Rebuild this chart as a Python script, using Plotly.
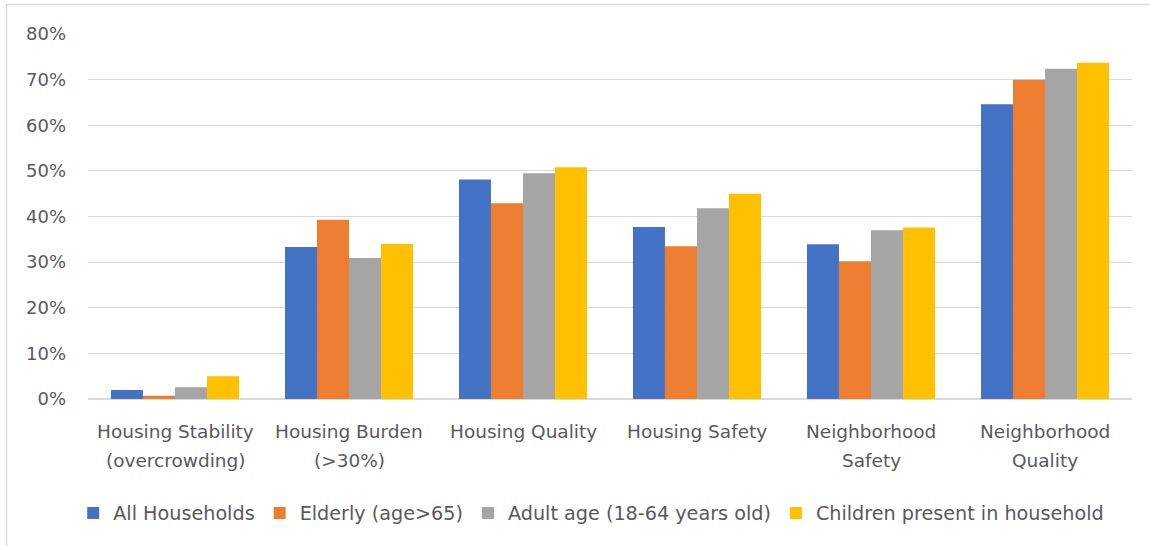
import plotly.graph_objects as go

categories = ["Housing Stability (overcrowding)", "Housing Burden (>30%)", "Housing Quality",
              "Housing Safety", "Neighborhood Safety", "Neighborhood Quality"]
category_lines = [["Housing Stability", "(overcrowding)"], ["Housing Burden", "(>30%)"], ["Housing Quality"],
                  ["Housing Safety"], ["Neighborhood", "Safety"], ["Neighborhood", "Quality"]]
series_names = ["All Households", "Elderly (age>65)", "Adult age (18-64 years old)", "Children present in household"]
all_households = [2.0, 33.3, 48.1, 37.7, 33.9, 64.6]
elderly = [0.7, 39.3, 42.9, 33.5, 30.2, 70.0]
adult = [2.6, 30.9, 49.5, 41.8, 37.0, 72.4]
children = [5.0, 34.0, 50.8, 45.0, 37.6, 73.7]
colors = ["#4472C4", "#ED7D31", "#A5A5A5", "#FFC000"]
y_ticks = [0, 10, 20, 30, 40, 50, 60, 70, 80]
y_tick_labels = [f"{v}%" for v in y_ticks]

FONT = "DejaVu Sans"
TXT = "#595959"

fig = go.Figure()
for name, vals, col in zip(series_names, [all_households, elderly, adult, children], colors):
    fig.add_trace(go.Bar(x=categories, y=vals, name=name, marker=dict(color=col, line=dict(width=0))))

L, R, T, B = 88, 18, 34, 147
W, H = 1150, 546
pw, ph = W - L - R, H - T - B

annotations = []
for cat, lines in zip(categories, category_lines):
    for i, line in enumerate(lines):
        annotations.append(dict(x=cat, y=0, xref="x", yref="y", text=line, showarrow=False,
                                xanchor="center", yanchor="middle", yshift=-32 - 29 * i,
                                font=dict(family=FONT, size=18.5, color=TXT)))

fig.update_layout(
    width=W, height=H,
    margin=dict(l=L, r=R, t=T, b=B),
    paper_bgcolor="white", plot_bgcolor="white",
    barmode="group", bargap=0.264, bargroupgap=0,
    font=dict(family=FONT, color=TXT, size=18),
    showlegend=True,
    legend=dict(orientation="h", x=0.482, xanchor="center", y=(ph - (513 - T)) / ph, yanchor="middle",
                font=dict(family=FONT, size=19.2, color=TXT), itemwidth=30, traceorder="normal"),
    xaxis=dict(showgrid=False, showline=False, showticklabels=False, zeroline=False),
    yaxis=dict(range=[0, 80], tickvals=y_ticks, ticktext=y_tick_labels, showgrid=True,
               gridcolor="#D9D9D9", gridwidth=1, zeroline=True, zerolinecolor="#D9D9D9", zerolinewidth=1.5,
               showline=False, tickfont=dict(size=18, family=FONT, color=TXT), ticklabelstandoff=21),
    annotations=annotations,
    shapes=[
        dict(type="line", xref="paper", yref="paper", x0=(6.5 - L) / pw, x1=(6.5 - L) / pw,
             y0=(ph - (546 - T)) / ph, y1=(ph - (4.5 - T)) / ph, line=dict(color="#D9D9D9", width=1.5)),
        dict(type="line", xref="paper", yref="paper", x0=(6.5 - L) / pw, x1=(W + 5 - L) / pw,
             y0=(ph - (4.5 - T)) / ph, y1=(ph - (4.5 - T)) / ph, line=dict(color="#D9D9D9", width=1.5)),
    ],
)

fig.write_html("out.html")
